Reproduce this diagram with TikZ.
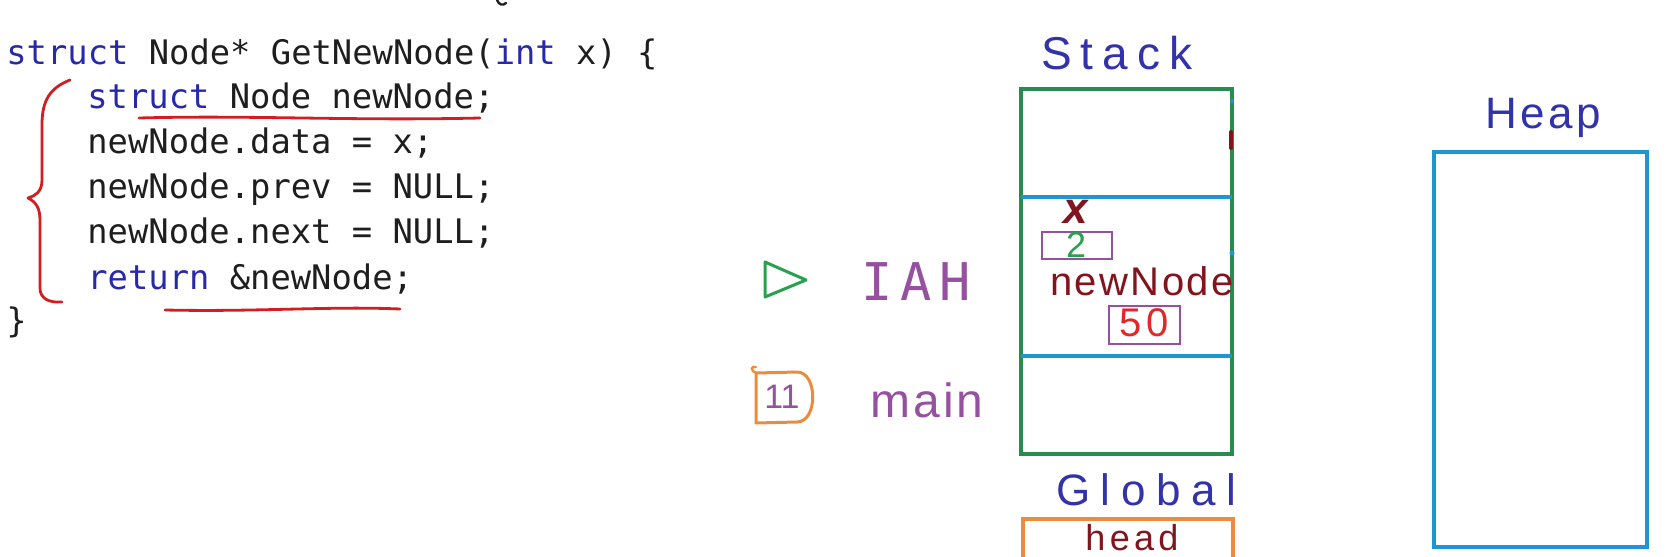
\documentclass[tikz,border=0pt]{standalone}
\usepackage{fontspec}
\newfontfamily\codefont{DejaVu Sans Mono}
\newfontfamily\hand{Liberation Sans}
\newfontfamily\handmono{DejaVu Sans Mono}
\definecolor{kw}{RGB}{40,40,170}
\definecolor{codeblack}{RGB}{30,30,30}
\definecolor{penred}{RGB}{210,30,30}
\definecolor{stackgreen}{RGB}{40,140,80}
\definecolor{lineblue}{RGB}{30,150,210}
\definecolor{labelblue}{RGB}{50,50,170}
\definecolor{darkred}{RGB}{130,20,30}
\definecolor{penpurple}{RGB}{150,80,160}
\definecolor{penorange}{RGB}{235,140,60}
\definecolor{pengreen}{RGB}{40,160,80}
\definecolor{red50}{RGB}{225,40,40}
\begin{document}
\begin{tikzpicture}[x=0.5pt,y=-0.5pt,
  code/.style={anchor=base west,inner sep=0pt,text=codeblack,font=\codefont\fontsize{16.9}{20}\selectfont\frenchspacing},
  redpen/.style={draw=penred,line width=1.4pt,line cap=round,line join=round},
  lbl/.style={inner sep=0pt,font=\hand\fontsize{20}{24}\selectfont},
]
\useasboundingbox (0,0) rectangle (1671,557);

% ---- code ----
\node[code] (l1) at (6,64) {\textcolor{kw}{struct} Node* GetNewNode(\textcolor{kw}{int} x) \{};
\node[code] (l2) at (87,108) {\textcolor{kw}{struct} Node newNode;};
\node[code] (l3) at (87,153) {newNode.data = x;};
\node[code] (l4) at (87,198) {newNode.prev = NULL;};
\node[code] (l5) at (87,243) {newNode.next = NULL;};
\node[code] (l6) at (87,289) {\textcolor{kw}{return} \&newNode;};
\node[code] (l7) at (6,332) {\}};

% red brace and underlines
\draw[redpen] (70,80) .. controls (50,88) and (42,100) .. (42,125) -- (42,180)
  .. controls (42,192) and (35,196) .. (28,198)
  .. controls (36,202) and (40,208) .. (40,220) -- (40,288)
  .. controls (40,298) and (48,303) .. (62,302);
\draw[redpen] (139,118) .. controls (250,115) and (350,121) .. (480,118);
\draw[redpen] (165,310) .. controls (260,312) and (330,306) .. (400,309);
\draw[draw=codeblack,line width=1.2pt,line cap=round] (497,0) .. controls (499,5) and (503,6) .. (506,3);

% ---- stack ----
\node[lbl,text=labelblue,font=\hand\fontsize{23}{26}\selectfont] (stacklbl) at (1117,53) {\addfontfeatures{LetterSpace=20}Stack};
\draw[stackgreen,line width=1.6pt] (1021,89) rectangle (1232,454);
\draw[lineblue,line width=1.6pt] (1021,197) -- (1232,197);
\draw[lineblue,line width=1.6pt] (1021,356) -- (1232,356);
\draw[darkred,line width=2pt,line cap=round] (1231,132) -- (1231,148);
\fill[lineblue] (1232,253) circle (2.5);
\fill[lineblue] (1232,101) circle (2);

\node[lbl,text=darkred,anchor=base,text depth=0pt,font=\hand\bfseries\itshape\fontsize{22}{26}\selectfont] (xlbl) at (1076,223) {x};
\draw[penpurple,line width=1.3pt] (1042,232) rectangle (1112,259);
\node[lbl,text=pengreen,font=\hand\fontsize{18}{20}\selectfont] (two) at (1076,245) {2};
\node[lbl,text=darkred,font=\hand\fontsize{20}{22}\selectfont] (nn) at (1142,281) {\addfontfeatures{LetterSpace=6}newNode};
\draw[penpurple,line width=1.3pt] (1109,306) rectangle (1180,344);
\node[lbl,text=red50,font=\hand\fontsize{20}{22}\selectfont] (fifty) at (1144,323) {\addfontfeatures{LetterSpace=12}50};

% ---- left call stack labels ----
\draw[pengreen,line width=1.5pt,line join=round] (765,262) -- (806,280) -- (765,297) -- cycle;
\node[lbl,text=penpurple,font=\handmono\fontsize{26}{30}\selectfont] (iah) at (916,282) {\addfontfeatures{LetterSpace=15}IAH};
\draw[penorange,line width=1.5pt,line join=round] (756,373) -- (797,372) .. controls (818,372) and (818,422) .. (797,422) -- (756,423) -- cycle;
\draw[penorange,line width=1.2pt,line cap=round] (756,373) .. controls (750,370) and (751,366) .. (756,367);
\node[lbl,text=penpurple,font=\hand\fontsize{17}{19}\selectfont] (eleven) at (782,397) {11};
\node[lbl,text=penpurple,font=\hand\fontsize{24}{26}\selectfont] (mainlbl) at (927,400) {\addfontfeatures{LetterSpace=6}main};

% ---- global ----
\node[lbl,text=labelblue,font=\hand\fontsize{22}{26}\selectfont] (globallbl) at (1146,490) {\addfontfeatures{LetterSpace=24}Global};
\draw[penorange,line width=1.6pt] (1023,557) -- (1023,519) -- (1233,519) -- (1233,557);
\node[lbl,text=darkred,anchor=base,text depth=0pt,font=\hand\fontsize{18}{22}\selectfont] (headlbl) at (1132,550) {\addfontfeatures{LetterSpace=12}head};

% ---- heap ----
\node[lbl,text=labelblue,font=\hand\fontsize{22}{26}\selectfont] (heaplbl) at (1543,118) {\addfontfeatures{LetterSpace=8}Heap};
\draw[lineblue,line width=1.6pt] (1434,152) rectangle (1647,547);
\end{tikzpicture}
\end{document}
